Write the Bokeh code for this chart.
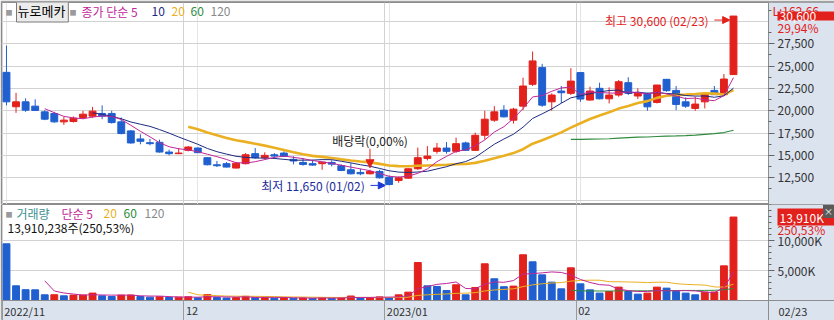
import pandas as pd
from bokeh.plotting import figure
from bokeh.layouts import column
from bokeh.models import (ColumnDataSource, Range1d, FixedTicker, Grid, Label,
                          Arrow, NormalHead, NumeralTickFormatter)
from bokeh.embed import file_html
from bokeh.resources import INLINE

# ---------------- data ----------------
stock_name = "뉴로메카"
dates = [
    "2022-11-04", "2022-11-07", "2022-11-08", "2022-11-09", "2022-11-10", "2022-11-11",
    "2022-11-14", "2022-11-15", "2022-11-16", "2022-11-17", "2022-11-18", "2022-11-21",
    "2022-11-22", "2022-11-23", "2022-11-24", "2022-11-25", "2022-11-28", "2022-11-29",
    "2022-11-30",
    "2022-12-01", "2022-12-02", "2022-12-05", "2022-12-06", "2022-12-07", "2022-12-08",
    "2022-12-09", "2022-12-12", "2022-12-13", "2022-12-14", "2022-12-15", "2022-12-16",
    "2022-12-19", "2022-12-20", "2022-12-21", "2022-12-22", "2022-12-23", "2022-12-26",
    "2022-12-27", "2022-12-28", "2022-12-29",
    "2023-01-02", "2023-01-03", "2023-01-04", "2023-01-05", "2023-01-06", "2023-01-09",
    "2023-01-10", "2023-01-11", "2023-01-12", "2023-01-13", "2023-01-16", "2023-01-17",
    "2023-01-18", "2023-01-19", "2023-01-20", "2023-01-25", "2023-01-26", "2023-01-27",
    "2023-01-30", "2023-01-31",
    "2023-02-01", "2023-02-02", "2023-02-03", "2023-02-06", "2023-02-07", "2023-02-08",
    "2023-02-09", "2023-02-10", "2023-02-13", "2023-02-14", "2023-02-15", "2023-02-16",
    "2023-02-17", "2023-02-20", "2023-02-21", "2023-02-22", "2023-02-23",
]
opens = [24300, 20450, 21000, 20520, 19880, 19700, 18760, 18800, 19250, 19400, 19700, 19700,
         18760, 17750, 16850, 16430, 16470, 15380, 15200,
         15570, 15830, 14750, 13960, 14080, 13590, 14080, 15200, 14750, 15080, 15270, 14560,
         14220, 14080, 14080, 14220, 13850, 13400, 13100, 12950, 13210,
         12570, 12200, 12460, 13510, 14670, 15460, 15830, 15460, 16400, 15570, 17260, 18950,
         20070, 18950, 20520, 22960, 24830, 21000, 22210, 21950,
         24270, 21200, 22510, 21340, 21760, 23140, 21650, 21950, 20930, 23520, 22280, 21000,
         20260, 21000, 22280, 21800, 24050]
highs = [27300, 22000, 21390, 21280, 20070, 19880, 19320, 19360, 20000, 20440, 20600, 20000,
         19250, 17820, 17370, 16850, 16770, 15650, 15830,
         16060, 15900, 14800, 14380, 14260, 14260, 15270, 15830, 15350, 15270, 15460, 14900,
         14700, 14520, 14260, 14450, 14000, 14140, 13510, 13400, 13400,
         12760, 12650, 13580, 15880, 16040, 16400, 16500, 17000, 16550, 17560, 20000, 20520,
         20630, 20330, 23700, 26630, 25250, 21950, 22770, 24760,
         24300, 22700, 23140, 22620, 23450, 23750, 22510, 22020, 22900, 23550, 22770, 21500,
         21570, 22020, 22770, 24120, 30600]
lows = [20600, 19770, 19880, 20000, 18950, 18650, 18420, 18680, 19060, 19210, 19060, 18570,
        17370, 16320, 16250, 16130, 15310, 15010, 15150,
        15460, 15280, 13900, 13700, 13660, 13550, 14000, 14640, 14525, 14600, 14820, 14000,
        13850, 13850, 13400, 13770, 13250, 12870, 12790, 12870, 12420,
        11650, 11940, 12390, 13400, 14450, 15200, 15200, 15270, 15500, 15500, 16770, 18760,
        19250, 18570, 20070, 22770, 20440, 20000, 20860, 21760,
        21000, 21120, 21270, 20820, 21570, 21760, 21310, 20000, 20820, 22130, 20070, 20330,
        20000, 20260, 21760, 21650, 24050]
closes = [21000, 21000, 20070, 20040, 19060, 18760, 18950, 19170, 19620, 19960, 19400, 18680,
          17450, 16400, 16580, 16320, 15380, 15200, 15270,
          15940, 15310, 13960, 13850, 13700, 14140, 15080, 14750, 15010, 14930, 14900, 14380,
          14000, 13920, 14250, 14030, 13320, 12950, 12950, 13210, 12500,
          11750, 12500, 13510, 14750, 14930, 15830, 15460, 16320, 15570, 17260, 19060, 19880,
          19320, 20180, 22770, 25580, 20630, 21760, 22020, 23320,
          21310, 22210, 21340, 21760, 23250, 21950, 21950, 20440, 22880, 22250, 20710, 20520,
          20750, 21870, 21800, 23550, 30600]
volumes_k = [9450, 2450, 1800, 1780, 950, 960, 780, 900, 910, 1230, 780, 670,
             900, 910, 670, 560, 620, 500, 560,
             620, 450, 1000, 500, 420, 480, 700, 500, 520, 400, 450, 380,
             420, 350, 480, 400, 450, 750, 450, 500, 600,
             500, 950, 1390, 6330, 2450, 2340, 1670, 2620, 950, 2170, 6120, 3620,
             2300, 2400, 7620, 6450, 4280, 3060, 1950, 5450,
             2780, 1780, 1230, 1500, 2230, 1500, 1060, 1230, 2230, 2060, 1500, 1230,
             950, 1390, 1420, 5780, 13910]
last_volume_shares = 13910238
last_volume_ratio = "250,53%"
ex_div_date = "2022-12-28"
ex_div_text = "배당락(0,00%)"
upper_text = "L:162.66"

price_ticks = [12500, 15000, 17500, 20000, 22500, 25000, 27500]
price_grid = [10000, 12500, 15000, 17500, 20000, 22500, 25000, 27500, 30000]
price_minor = [11250, 13750, 16250, 18750, 21250, 23750, 26250, 28750, 31250]
vol_ticks = [5000, 10000]
vol_minor = [1000, 2000, 3000, 4000, 6000, 7000, 8000, 9000, 11000, 12000, 13000, 14000, 15000, 16000]

# ---------------- style ----------------
RED = "#e3211c"
BLUE = "#1f5fcf"
FONT = "Noto Sans CJK KR"
AXIS_BG = "#dbe3ee"
GRID = "#d2d2d2"
OUTLINE = "#8c8c8c"
C_MA5 = "#c0279a"
C_MA10 = "#1d2b80"
C_MA20 = "#ebb022"
C_MA60 = "#2e8b3e"
C_MA120 = "#8a8a8a"
C_VOLNAME = "#3d8f8f"

n = len(dates)
df = pd.DataFrame(dict(x=list(range(n)), open=opens, high=highs, low=lows,
                       close=closes, vol=volumes_k))
df["color"] = [RED if c >= o else BLUE for o, c in zip(opens, closes)]
df["top"] = df[["open", "close"]].max(axis=1)
df["bot"] = df[["open", "close"]].min(axis=1)
vcol = [BLUE]
for i in range(1, n):
    vcol.append(RED if volumes_k[i] > volumes_k[i - 1] else BLUE)
df["vcolor"] = vcol
for w in (5, 10, 20, 60):
    df[f"ma{w}"] = df["close"].rolling(w).mean()
for w in (5, 20, 60):
    df[f"vma{w}"] = df["vol"].rolling(w).mean()
src = ColumnDataSource(df)

# month boundaries
month_pos, month_lab = [], []
for i, d in enumerate(dates):
    if i == 0 or dates[i - 1][:7] != d[:7]:
        month_pos.append(i - 0.45)
        y, m = d[:4], d[5:7]
        month_lab.append(f"{y}/{m}" if (i == 0 or dates[i - 1][:4] != y) else m)

# layout geometry (pixels per candle slot ~9.57)
SLOT = 9.566
X0 = -0.52
XA = X0 + 767 / SLOT          # position of the right axis line
XE = X0 + 833 / SLOT          # right edge of the page
xr = Range1d(X0, XE)
PRICE_H = 202
yr = Range1d(9512, 32116)
px = (yr.end - yr.start) / PRICE_H
VOL_H = 116
vpx = 16000 / 96
vr = Range1d(-20 * vpx, 16000)


def label(fig, text, x, y, color, size=12, align="left", baseline="middle",
          xu="screen", yu="screen", **kw):
    fig.add_layout(Label(x=x, y=y, x_units=xu, y_units=yu, text=text, text_color=color,
                         text_font=FONT, text_font_size=f"{size}px", text_align=align,
                         text_baseline=baseline, **kw))


def style_yaxis(ax):
    ax.fixed_location = XA
    ax.axis_line_color = OUTLINE
    ax.major_tick_out = 6
    ax.major_tick_in = 0
    ax.minor_tick_out = 3
    ax.minor_tick_in = 0
    ax.major_tick_line_color = "#666666"
    ax.minor_tick_line_color = "#666666"
    ax.major_label_text_color = "#333333"
    ax.major_label_text_font = FONT
    ax.major_label_text_font_size = "12px"
    ax.major_label_standoff = 3


# ---------------- price panel ----------------
p = figure(width=834, height=204, x_range=xr, y_range=yr, output_backend="svg",
           toolbar_location=None, x_axis_location=None, y_axis_location="right",
           min_border_left=1, min_border_right=0, min_border_top=2, min_border_bottom=0,
           background_fill_color="white", border_fill_color="#a0a0a0",
           outline_line_color=OUTLINE)
p.yaxis.ticker = FixedTicker(ticks=price_ticks, minor_ticks=price_minor)
p.yaxis.formatter = NumeralTickFormatter(format="0,0")
style_yaxis(p.yaxis)
p.ygrid.ticker = FixedTicker(ticks=price_grid)
p.ygrid.grid_line_color = GRID
p.add_layout(Grid(dimension=0, ticker=FixedTicker(ticks=month_pos), grid_line_color=GRID))
# axis area background
p.quad(left=XA, right=XE, bottom=yr.start, top=yr.end, fill_color=AXIS_BG, line_color=None)

p.segment(x0="x", y0="high", x1="x", y1="low", color="color", line_width=1, source=src)
p.vbar(x="x", width=0.72, top="top", bottom="bot", fill_color="color",
       line_color="color", line_width=1, source=src)
p.line("x", "ma60", color=C_MA60, line_width=1.2, source=src)
p.line("x", "ma20", color=C_MA20, line_width=2.6, source=src)
p.line("x", "ma10", color=C_MA10, line_width=1, source=src)
p.line("x", "ma5", color=C_MA5, line_width=1, source=src)

# legend row
label(p, "■", 4, PRICE_H - 9, "#9a9a9a", size=7)
label(p, stock_name, 15, PRICE_H - 9, "#000000", size=13,
      background_fill_color="#ececec", border_line_color="#7a7a7a", padding=(1, 3, 0, 2))
label(p, "■", 68, PRICE_H - 9, "#9a9a9a", size=7)
label(p, "종가 단순 5", 80, PRICE_H - 9, C_MA5)
label(p, "10", 150, PRICE_H - 9, C_MA10)
label(p, "20", 170, PRICE_H - 9, C_MA20)
label(p, "60", 189, PRICE_H - 9, C_MA60)
label(p, "120", 209, PRICE_H - 9, C_MA120)

# high annotation
hi_i = max(range(n), key=lambda i: highs[i])
hi_v = highs[hi_i]
hi_d = dates[hi_i][5:].replace("-", "/")
y_hi = hi_v - 4 * px
label(p, f"최고 {hi_v:,} ({hi_d})", hi_i - 2.6, y_hi, RED, align="right", xu="data", yu="data")
p.add_layout(Arrow(end=NormalHead(size=7, fill_color=RED, line_color=RED),
                   x_start=hi_i - 2.0, y_start=y_hi, x_end=hi_i - 0.4, y_end=y_hi,
                   line_color=RED, line_width=1))

# low annotation
lo_i = min(range(n), key=lambda i: lows[i])
lo_v = lows[lo_i]
lo_d = dates[lo_i][5:].replace("-", "/")
LO_TXT = "#1a2a9c"
LO_ARR = "#1b38d8"
label(p, f"최저 {lo_v:,} ({lo_d})", lo_i - 2.55, lo_v, LO_TXT, align="right", xu="data", yu="data")
p.add_layout(Arrow(end=NormalHead(size=7, fill_color=LO_ARR, line_color=LO_ARR),
                   x_start=lo_i - 1.95, y_start=lo_v, x_end=lo_i - 0.4, y_end=lo_v,
                   line_color=LO_ARR, line_width=1))

# ex-dividend annotation
dv_i = dates.index(ex_div_date)
dv_h = highs[dv_i]
label(p, ex_div_text, dv_i, dv_h + 29 * px, "#222222", align="center", xu="data", yu="data")
p.add_layout(Arrow(end=NormalHead(size=8, fill_color=RED, line_color=RED),
                   x_start=dv_i, y_start=dv_h + 21 * px, x_end=dv_i, y_end=dv_h + 2 * px,
                   line_color=RED, line_width=1))

# right-axis markers (upper-limit text mostly hidden behind the price box, as in the source)
last_c = closes[-1]
chg = (closes[-1] / closes[-2] - 1) * 100
label(p, upper_text, XA, PRICE_H - 8, RED, xu="data", x_offset=4)
label(p, f"{last_c:,}", XA, last_c, "white", xu="data", yu="data", x_offset=9,
      background_fill_color=RED, padding=dict(left=2, right=22, top=0, bottom=0))
label(p, f"{chg:.2f}%".replace(".", ","), XA, last_c, RED, xu="data", yu="data",
      x_offset=9, y_offset=-11)

# ---------------- volume panel ----------------
v = figure(width=834, height=VOL_H, x_range=xr, y_range=vr,
           output_backend="svg", toolbar_location=None, y_axis_location="right",
           min_border_left=1, min_border_right=0, min_border_top=0, min_border_bottom=0,
           background_fill_color="white", border_fill_color="#a0a0a0",
           outline_line_color=OUTLINE)
v.yaxis.ticker = FixedTicker(ticks=vol_ticks, minor_ticks=vol_minor)
v.yaxis.major_label_overrides = {t: f"{t:,}K" for t in vol_ticks}
style_yaxis(v.yaxis)
v.ygrid.grid_line_color = GRID
v.xgrid.ticker = FixedTicker(ticks=month_pos)
v.xgrid.grid_line_color = GRID
v.xaxis.fixed_location = 0
v.xaxis.ticker = FixedTicker(ticks=month_pos + [XA])
v.xaxis.major_label_overrides = {t: "" for t in month_pos + [XA]}
v.xaxis.axis_line_color = OUTLINE
v.xaxis.major_tick_out = 20
v.xaxis.major_tick_in = 0
v.xaxis.minor_tick_out = 0
v.xaxis.minor_tick_in = 0
v.xaxis.major_tick_line_color = "#9a9a9a"
v.xaxis.major_label_standoff = 0

# axis area + date strip backgrounds
v.quad(left=XA, right=XE, bottom=vr.start, top=vr.end, fill_color=AXIS_BG, line_color=None)
v.quad(left=X0, right=XE, bottom=vr.start, top=0, fill_color=AXIS_BG, line_color=None)

v.vbar(x="x", width=0.72, top="vol", bottom=0, fill_color="vcolor",
       line_color="vcolor", source=src)
v.line("x", "vma60", color=C_MA60, line_width=1, source=src)
v.line("x", "vma20", color=C_MA20, line_width=1, source=src)
v.line("x", "vma5", color=C_MA5, line_width=1, source=src)

ROW1 = VOL_H - 9
label(v, "■", 4, ROW1, "#9a9a9a", size=7)
label(v, "거래량", 15, ROW1, C_VOLNAME)
label(v, "단순 5", 60, ROW1, C_MA5)
label(v, "20", 102, ROW1, C_MA20)
label(v, "60", 122, ROW1, C_MA60)
label(v, "120", 143, ROW1, C_MA120)
label(v, f"{last_volume_shares:,}주({last_volume_ratio})", 6, VOL_H - 23, "#111111")

last_v = volumes_k[-1]
label(v, f"{last_v:,}K", XA, last_v, "white", xu="data", yu="data", x_offset=9,
      background_fill_color=RED, padding=dict(left=2, right=14, top=0, bottom=0))
label(v, last_volume_ratio, XA, last_v, RED, xu="data", yu="data",
      x_offset=9, y_offset=-12)
# small close button in the axis corner
label(v, "×", XE, VOL_H - 7, "white", size=9, align="center", xu="data", x_offset=-6,
      background_fill_color="#5a5a5a", padding=dict(left=1, right=1, top=0, bottom=0))

# month labels in the date strip
for pos, lab in zip(month_pos, month_lab):
    label(v, lab, pos, -10 * vpx, "#333333", size=11, xu="data", yu="data", x_offset=2)
label(v, dates[-1][5:].replace("-", "/"), XA, -10 * vpx, "#333333", size=11,
      xu="data", yu="data", x_offset=10)

layout = column(p, v, spacing=0)
open("out.html", "w").write(file_html(layout, INLINE))
